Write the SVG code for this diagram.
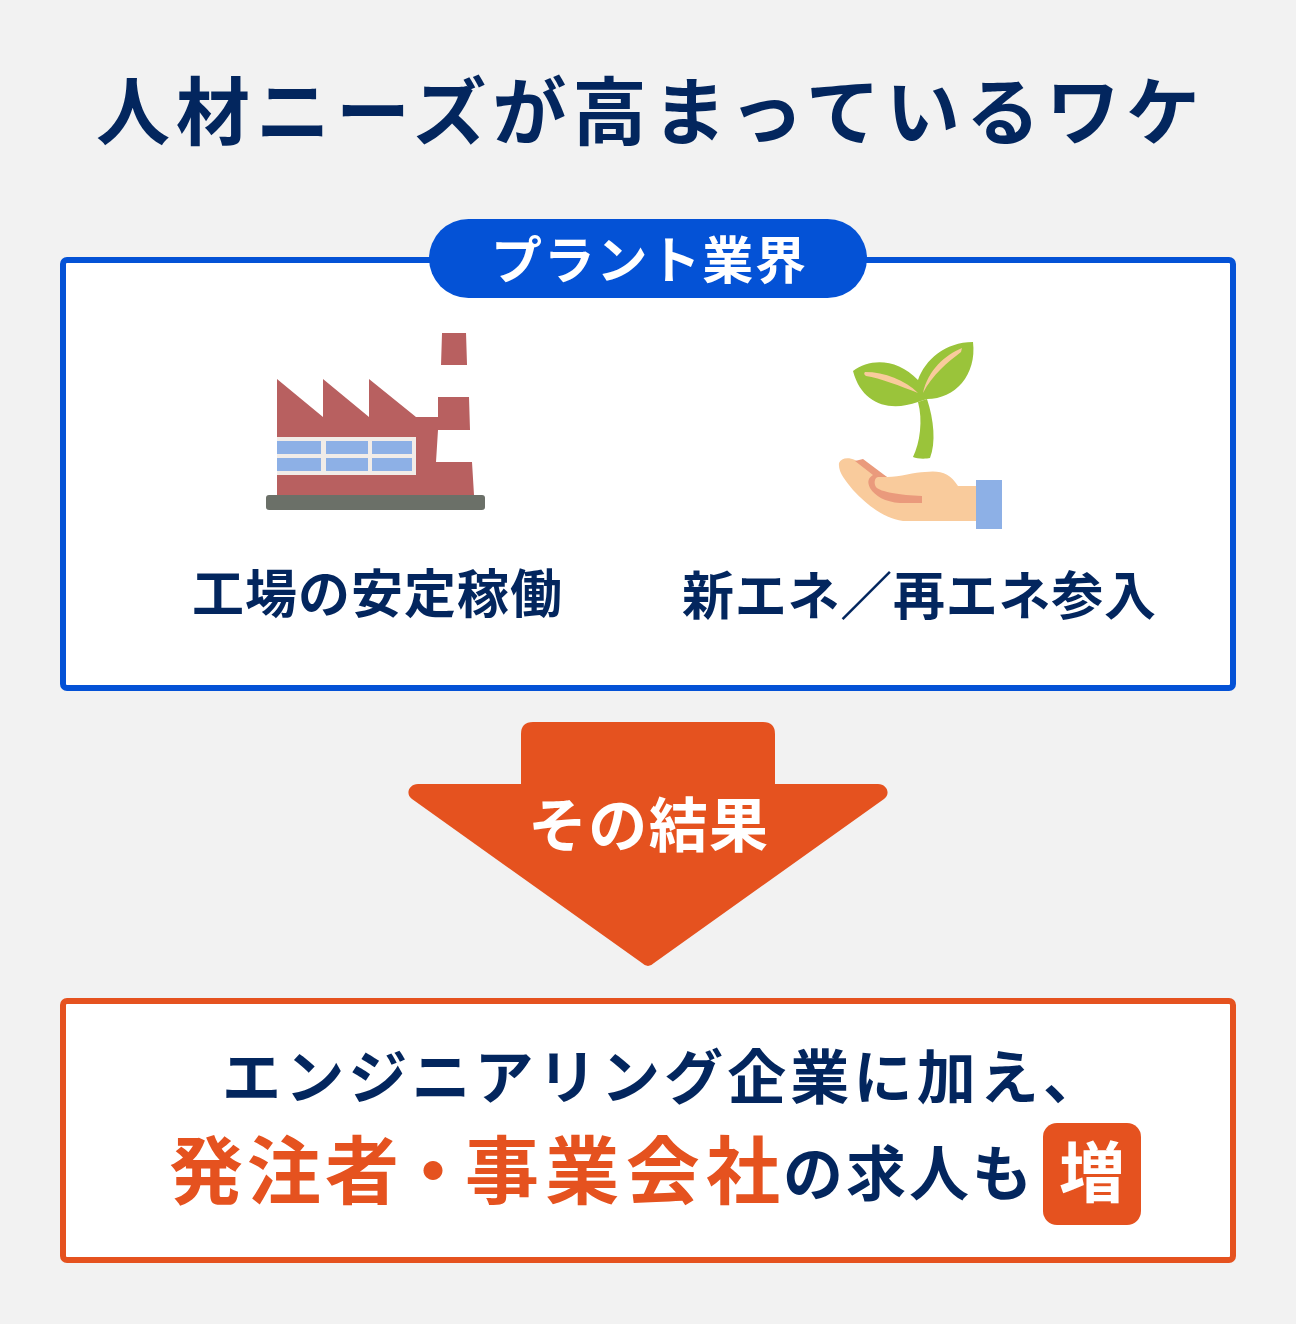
<svg xmlns="http://www.w3.org/2000/svg" width="1296" height="1324" viewBox="0 0 1296 1324">
<style>
text{font-family:"Noto Sans CJK JP","Noto Sans",sans-serif;font-weight:700;stroke-linejoin:round}
.navy{fill:#03265e}
.white{fill:#fff}
.org{fill:#e5521f}
.brick{fill:#b86060}
.pane{fill:#8db0e6}
.green{fill:#9ac43a}
.skin{fill:#f9cb9c}
.crease{fill:#ea9a7c}
</style>
<rect width="1296" height="1324" fill="#f2f2f2"/>
<g id="title"><text class="navy" x="96" y="139" font-size="74" textLength="1104" lengthAdjust="spacing">人材ニーズが高まっているワケ</text></g>
<g id="plant-panel">
<rect x="63" y="260" width="1170" height="428" rx="4" fill="#fff" stroke="#0452d6" stroke-width="6"/>
<rect x="429" y="219" width="438" height="79" rx="39.5" fill="#0452d6"/>
<text class="white" x="491" y="279" font-size="51" textLength="315" lengthAdjust="spacing">プラント業界</text>
</g>
<g id="factory">
<path class="brick" d="M277 379L323 417V379L369 417V379L416 417H438V397H469L470 430H438L436 462H472L474 495H277Z"/>
<path class="brick" d="M442 333H466L467 365H441Z"/>
<rect x="277" y="437" width="139" height="38" fill="#f1ece8"/>
<rect class="pane" x="277" y="441" width="44" height="13"/><rect class="pane" x="326" y="441" width="42" height="13"/><rect class="pane" x="372" y="441" width="40" height="13"/>
<rect class="pane" x="277" y="458" width="44" height="13"/><rect class="pane" x="326" y="458" width="42" height="13"/><rect class="pane" x="372" y="458" width="40" height="13"/>
<rect x="266" y="495" width="219" height="15" rx="3" fill="#6b7068"/>
</g>
<g id="sprout">
<path class="green" d="M918 402C923 420 920 443 913 457C917 459 926 459 930 458C936 443 934 420 927 399Z"/>
<path class="green" d="M853 371C870 358 897 358 918 380C925 360 945 342 973 342C977 375 955 399 927 399L918 402C890 412 862 405 853 371Z"/>
<path class="skin" d="M865 372C885 372 905 380 918 393C900 386 880 378 866 376Q863 374 865 372Z"/>
<path class="skin" d="M962 348C945 355 928 370 923 393C932 375 948 362 961 352Z"/>
<path class="skin" d="M839 463C841 458 848 457 855 460L887 477C900 477 915 472 925 472C940 470 950 473 958 486H976V521H903C885 518 870 508 853 490C845 480 838 472 839 463Z"/>
<path class="crease" d="M855 461L863 459L887 477H878C874 478 874 484 876 487C880 492 900 495 922 496V503H900C885 502 875 496 870 488C867 482 868 478 873 475Z"/>
<rect x="976" y="480" width="26" height="49" class="pane"/>
</g>
<g id="label-factory"><text class="navy" x="192" y="613" font-size="52" textLength="370" lengthAdjust="spacing">工場の安定稼働</text></g>
<g id="label-energy"><text class="navy" x="682" y="615" font-size="52" textLength="474" lengthAdjust="spacing">新エネ／再エネ参入</text></g>
<g id="connectors">
<path class="org" d="M521 784V734Q521 722 533 722H763Q775 722 775 734V784H878C887 784 891 794 884 799L654 963Q648 969 642 963L412 799C405 794 409 784 418 784Z"/>
</g>
<g id="arrow-label"><text class="white" x="528" y="847" font-size="59" textLength="240" lengthAdjust="spacing">その結果</text></g>
<g id="result-panel">
<rect x="63" y="1001" width="1170" height="259" rx="4" fill="#fff" stroke="#e5521f" stroke-width="6"/>
<text class="navy" x="222" y="1099" font-size="59" textLength="880" lengthAdjust="spacing">エンジニアリング企業に加え、</text>
<text class="org" x="169" y="1198" font-size="74" textLength="230" lengthAdjust="spacing">発注者</text>
<text class="org" x="396" y="1198" font-size="74">・</text>
<text class="org" x="465" y="1198" font-size="74" textLength="315" lengthAdjust="spacing">事業会社</text>
<text class="navy" x="783" y="1196" font-size="60" textLength="249" lengthAdjust="spacing">の求人も</text>
<rect x="1043" y="1123" width="98" height="102" rx="14" fill="#e5521f"/>
<text class="white" x="1092" y="1197" font-size="66" text-anchor="middle">増</text>
</g>
</svg>
